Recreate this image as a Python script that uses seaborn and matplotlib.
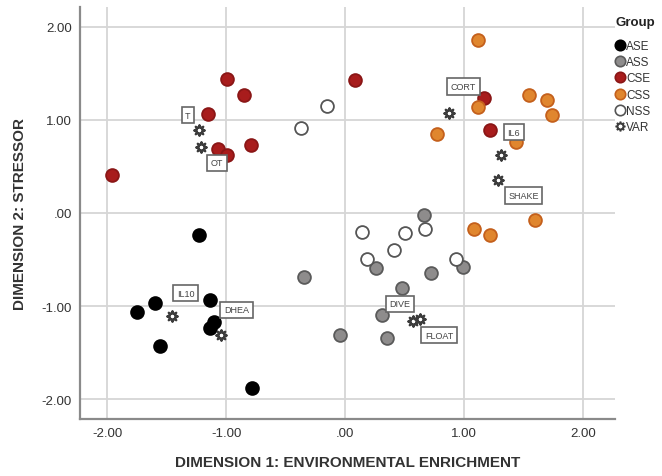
import numpy as np
import pandas as pd
import seaborn as sns
import matplotlib.pyplot as plt
from matplotlib.ticker import FuncFormatter
from matplotlib.lines import Line2D

# group coordinates
ase_x = [-1.23, -1.60, -1.75, -1.14, -1.10, -1.14, -1.56, -0.78]
ase_y = [-0.24, -0.97, -1.06, -0.94, -1.17, -1.24, -1.43, -1.88]

ass_x = [-0.35, -0.04, 0.66, 0.26, 0.72, 0.99, 0.48, 0.31, 0.35]
ass_y = [-0.69, -1.31, -0.02, -0.59, -0.64, -0.58, -0.81, -1.10, -1.34]

cse_x = [-0.99, -0.85, -1.15, -1.07, -0.99, -0.79, -1.96, 0.08, 1.17, 1.22]
cse_y = [1.44, 1.27, 1.06, 0.69, 0.62, 0.73, 0.41, 1.43, 1.24, 0.89]

css_x = [1.12, 1.55, 1.70, 1.74, 1.12, 0.77, 1.44, 1.60, 1.08, 1.22]
css_y = [1.86, 1.27, 1.21, 1.05, 1.14, 0.85, 0.76, -0.08, -0.17, -0.24]

nss_x = [-0.15, -0.37, 0.14, 0.50, 0.67, 0.41, 0.18, 0.93]
nss_y = [1.15, 0.91, -0.20, -0.22, -0.17, -0.40, -0.49, -0.49]

var_names = ["CORT", "IL6", "SHAKE", "T", "OT", "IL10", "DHEA", "DIVE", "FLOAT"]
var_x = [0.87, 1.31, 1.29, -1.23, -1.21, -1.46, -1.04, 0.57, 0.63]
var_y = [1.08, 0.62, 0.36, 0.89, 0.71, -1.11, -1.31, -1.16, -1.14]

groups = ["ASE", "ASS", "CSE", "CSS", "NSS", "VAR"]

# label offsets (pixels) for the variable boxes
label_off = {
    "CORT": (15, 26), "IL6": (13, 23), "SHAKE": (25, -16), "T": (-11, 15),
    "OT": (16, -16), "IL10": (14, 23), "DHEA": (15, 25), "DIVE": (-13, 17),
    "FLOAT": (19, -16),
}

# marker styles per group: face, edge, marker
star = (8, 1, 0)
styles = {
    "ASE": ("#000000", "#000000", "o"),
    "ASS": ("#8e8c8c", "#5a5a5a", "o"),
    "CSE": ("#a81c1c", "#8a1616", "o"),
    "CSS": ("#e0862e", "#c4601c", "o"),
    "NSS": ("#ffffff", "#555555", "o"),
    "VAR": ("#ffffff", "#3c3c3c", star),
}

frames = []
for g, xs, ys in [("ASE", ase_x, ase_y), ("ASS", ass_x, ass_y), ("CSE", cse_x, cse_y),
                  ("CSS", css_x, css_y), ("NSS", nss_x, nss_y), ("VAR", var_x, var_y)]:
    frames.append(pd.DataFrame({"dim1": xs, "dim2": ys, "Group": g}))
df = pd.concat(frames, ignore_index=True)

sns.set_style("white")
plt.rcParams["font.family"] = ["Liberation Sans", "DejaVu Sans"]

fig = plt.figure(figsize=(6.62, 4.77), dpi=100)
ax = fig.add_axes([80 / 662, 57 / 477, 535 / 662, 412 / 477])

for g in groups:
    face, edge, mk = styles[g]
    sub = df[df["Group"] == g]
    if g == "VAR":
        sns.scatterplot(data=sub, x="dim1", y="dim2", ax=ax, marker=mk, s=60,
                        color=face, edgecolor=edge, linewidth=1.6, zorder=4)
    else:
        sns.scatterplot(data=sub, x="dim1", y="dim2", ax=ax, marker=mk, s=85,
                        color=face, edgecolor=edge, linewidth=1.3, zorder=3)

for name, x, y in zip(var_names, var_x, var_y):
    ax.annotate(name, (x, y), xytext=label_off[name], textcoords="offset pixels",
                ha="center", va="center", fontsize=6.5, color="#444444", zorder=5,
                bbox=dict(boxstyle="square,pad=0.4", fc="white", ec="#666666", lw=1.2))

ax.set_xlim(-2.23, 2.27)
ax.set_ylim(-2.215, 2.215)
ticks = [-2, -1, 0, 1, 2]
ax.set_xticks(ticks)
ax.set_yticks(ticks)


def spss_fmt(v, pos):
    s = f"{v:.2f}"
    if s in ("0.00", "-0.00"):
        s = ".00"
    return s


ax.xaxis.set_major_formatter(FuncFormatter(spss_fmt))
ax.yaxis.set_major_formatter(FuncFormatter(spss_fmt))
ax.tick_params(length=0, labelsize=9.5, labelcolor="#333333", pad=6)
ax.grid(True, color="#d6d6d6", lw=1.3)
ax.set_axisbelow(True)
for side in ["top", "right"]:
    ax.spines[side].set_visible(False)
for side in ["left", "bottom"]:
    ax.spines[side].set_color("#8a8a8a")
    ax.spines[side].set_linewidth(1.6)

ax.set_xlabel("DIMENSION 1: ENVIRONMENTAL ENRICHMENT", fontsize=11,
              fontweight="bold", color="#333333", labelpad=11)
ax.set_ylabel("DIMENSION 2: STRESSOR", fontsize=11, fontweight="bold",
              color="#333333", labelpad=10)

handles = []
for g in groups:
    face, edge, mk = styles[g]
    handles.append(Line2D([], [], ls="", marker=mk, markersize=7.5 if mk == "o" else 7,
                          markerfacecolor=face, markeredgecolor=edge,
                          markeredgewidth=1.2, label=g))
fig.text(616 / 662, 1 - 23 / 477, "Group", fontsize=9.5, fontweight="bold",
         color="#222222", ha="left", va="center")
leg = ax.legend(handles=handles, loc="upper left",
                bbox_to_anchor=(614 / 662, 1 - 41 / 477), bbox_transform=fig.transFigure,
                frameon=False, fontsize=8.5, handletextpad=0.05, labelspacing=0.36,
                borderpad=0, borderaxespad=0, handlelength=1.0)
for t in leg.get_texts():
    t.set_color("#333333")

fig.savefig("out.png", dpi=100)
